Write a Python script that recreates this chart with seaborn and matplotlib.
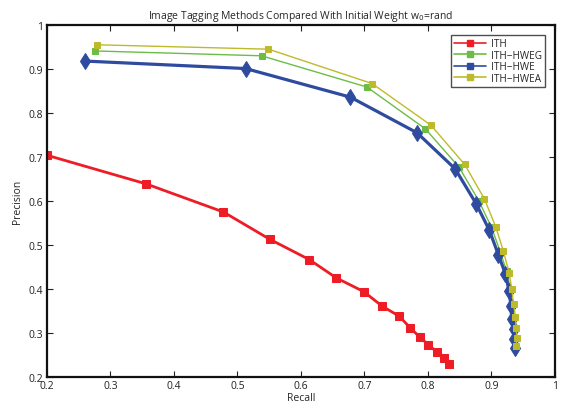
import pandas as pd
import matplotlib
matplotlib.use("Agg")
import matplotlib.pyplot as plt
from matplotlib.lines import Line2D
from matplotlib.ticker import FormatStrFormatter
import seaborn as sns

sns.set_style("ticks")
plt.rcParams['font.family'] = ['Open Sans', 'DejaVu Sans']

# values
ith_recall = [0.200, 0.356, 0.478, 0.551, 0.613, 0.656, 0.699, 0.728, 0.755,
              0.772, 0.787, 0.801, 0.814, 0.825, 0.833]
ith_prec = [0.704, 0.639, 0.575, 0.513, 0.467, 0.425, 0.394, 0.361, 0.338,
            0.312, 0.291, 0.273, 0.257, 0.243, 0.230]

hweg_recall = [0.275, 0.538, 0.704, 0.796, 0.849, 0.880, 0.900, 0.914, 0.924,
               0.930, 0.932, 0.934, 0.936, 0.937, 0.938]
hweg_prec = [0.941, 0.930, 0.859, 0.764, 0.677, 0.601, 0.541, 0.485, 0.440,
             0.400, 0.364, 0.334, 0.310, 0.289, 0.268]

hwe_recall = [0.260, 0.513, 0.678, 0.783, 0.843, 0.876, 0.897, 0.911, 0.922,
              0.928, 0.931, 0.932, 0.935, 0.936, 0.937]
hwe_prec = [0.918, 0.901, 0.836, 0.755, 0.673, 0.594, 0.533, 0.478, 0.435,
            0.395, 0.361, 0.331, 0.308, 0.287, 0.266]

hwea_recall = [0.279, 0.549, 0.712, 0.805, 0.858, 0.889, 0.907, 0.919, 0.928,
               0.932, 0.935, 0.938, 0.939, 0.940, 0.939]
hwea_prec = [0.955, 0.945, 0.867, 0.772, 0.683, 0.605, 0.541, 0.486, 0.437,
             0.401, 0.367, 0.336, 0.311, 0.289, 0.270]

names = ['ITH', 'ITH\u2212HWEG', 'ITH\u2212HWE', 'ITH\u2212HWEA']
colors = ['#ee1c25', '#6cbd45', '#2f4b9f', '#bdbb2b']

series = [(ith_recall, ith_prec), (hweg_recall, hweg_prec),
          (hwe_recall, hwe_prec), (hwea_recall, hwea_prec)]
markers = ['s', 's', 'd', 's']
widths = [2.0, 1.0, 2.3, 1.0]
msizes = [5.5, 5, 8.5, 5]

fig = plt.figure(figsize=(5.72, 4.06), dpi=100)
ax = fig.add_axes([0.082, 0.069, 0.888, 0.867])

for name, (rx, py), c, m, lw, ms in zip(names, series, colors, markers, widths, msizes):
    df = pd.DataFrame({'Recall': rx, 'Precision': py})
    sns.lineplot(data=df, x='Recall', y='Precision', ax=ax, sort=False, estimator=None,
                 color=c, marker=m, markersize=ms, linewidth=lw,
                 markeredgecolor=c, markerfacecolor=c)

ax.set_xlim(0.2, 1)
ax.set_ylim(0.2, 1)
ax.set_xticks([0.2, 0.3, 0.4, 0.5, 0.6, 0.7, 0.8, 0.9, 1])
ax.set_yticks([0.2, 0.3, 0.4, 0.5, 0.6, 0.7, 0.8, 0.9, 1])
ax.xaxis.set_major_formatter(FormatStrFormatter('%g'))
ax.yaxis.set_major_formatter(FormatStrFormatter('%g'))
ax.tick_params(direction='in', length=4, width=0.8, labelsize=7.5,
               top=True, right=True, colors='#222222')
ax.tick_params(axis='x', pad=2)
ax.tick_params(axis='y', pad=3)
for s in ax.spines.values():
    s.set_linewidth(1.6)
    s.set_color('#111111')

ax.set_xlabel('Recall', fontsize=7.5, labelpad=1)
ax.set_ylabel('Precision', fontsize=7.5, labelpad=4)
ax.set_title(r'Image Tagging Methods Compared With Initial Weight w$_{0}$=rand',
             fontsize=7.5, pad=5)

handles = [Line2D([], [], color=c, marker='s', markersize=5, linewidth=1.2,
                  markeredgecolor=c, markerfacecolor=c) for c in colors]
leg = ax.legend(handles, names, loc='upper right', fontsize=7.2, frameon=True,
                fancybox=False, edgecolor='#222222', handlelength=3.2,
                borderpad=0.3, labelspacing=0.05, handletextpad=0.5,
                bbox_to_anchor=(0.99, 0.985))
leg.get_frame().set_linewidth(1.0)

fig.savefig('out.png', dpi=100)
